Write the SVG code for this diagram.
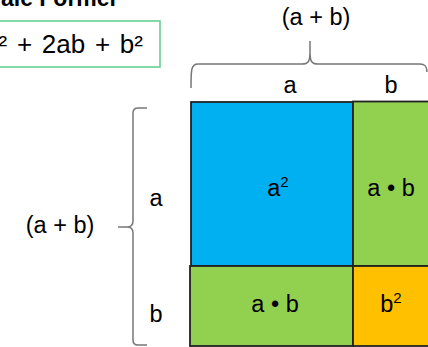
<svg xmlns="http://www.w3.org/2000/svg" width="428" height="347" viewBox="0 0 428 347">
<style>
  text { font-family: "Liberation Sans", Arial, sans-serif; fill: #000; }
  .lbl { font-size: 23.5px; text-anchor: middle; }
  .sup { font-size: 15px; }
  .cell { stroke: #222; stroke-width: 1.8; }
  .brace { fill: none; stroke: #777; stroke-width: 1.5; }
</style>
<rect width="428" height="347" fill="#fff"/>
<g id="title">
  <text x="116" y="6" font-size="23" font-weight="bold" text-anchor="end">ale Formel</text>
</g>
<g id="formula">
  <rect x="-20" y="21" width="180" height="46" fill="#fff" stroke="#5fcb8c" stroke-width="1.5"/>
  <text x="143" y="53" font-size="26" word-spacing="2.5" text-anchor="end">a² + 2ab + b²</text>
</g>
<g id="connectors">
  <path class="brace" d="M191,88 C191,70 191,64 198,64 L302,64 C308,64 310,62 310,52 L310,41 M310,52 C310,62 312,64 318,64 L420,64 C425,64 427,66 427,72"/>
  <path class="brace" d="M147,108 L138,108 Q133,108 133,113 L133,221 Q133,227 127,227 L118,227 M127,227 Q133,227 133,233 L133,340 Q133,345 138,345 L147,345"/>
</g>
<g id="sq-a2">
  <rect class="cell" x="191" y="102" width="162" height="164" fill="#00b0f0"/>
  <text class="lbl" x="278" y="196">a<tspan class="sup" dy="-9">2</tspan></text>
</g>
<g id="rect-ab-right">
  <rect class="cell" x="353" y="101.5" width="80" height="164.5" fill="#92d050"/>
  <text class="lbl" x="391" y="196">a • b</text>
</g>
<g id="rect-ab-bottom">
  <rect class="cell" x="190" y="266" width="163" height="80" fill="#92d050"/>
  <text class="lbl" x="275" y="312">a • b</text>
</g>
<g id="sq-b2">
  <rect class="cell" x="353" y="266" width="80" height="80" fill="#ffc000"/>
  <text class="lbl" x="391" y="312">b<tspan class="sup" dy="-9">2</tspan></text>
</g>
<g id="labels">
  <text class="lbl" x="316" y="25">(a + b)</text>
  <text class="lbl" x="290" y="93">a</text>
  <text class="lbl" x="391" y="93">b</text>
  <text class="lbl" x="60" y="233">(a + b)</text>
  <text class="lbl" x="156" y="206">a</text>
  <text class="lbl" x="156" y="322">b</text>
</g>
</svg>
